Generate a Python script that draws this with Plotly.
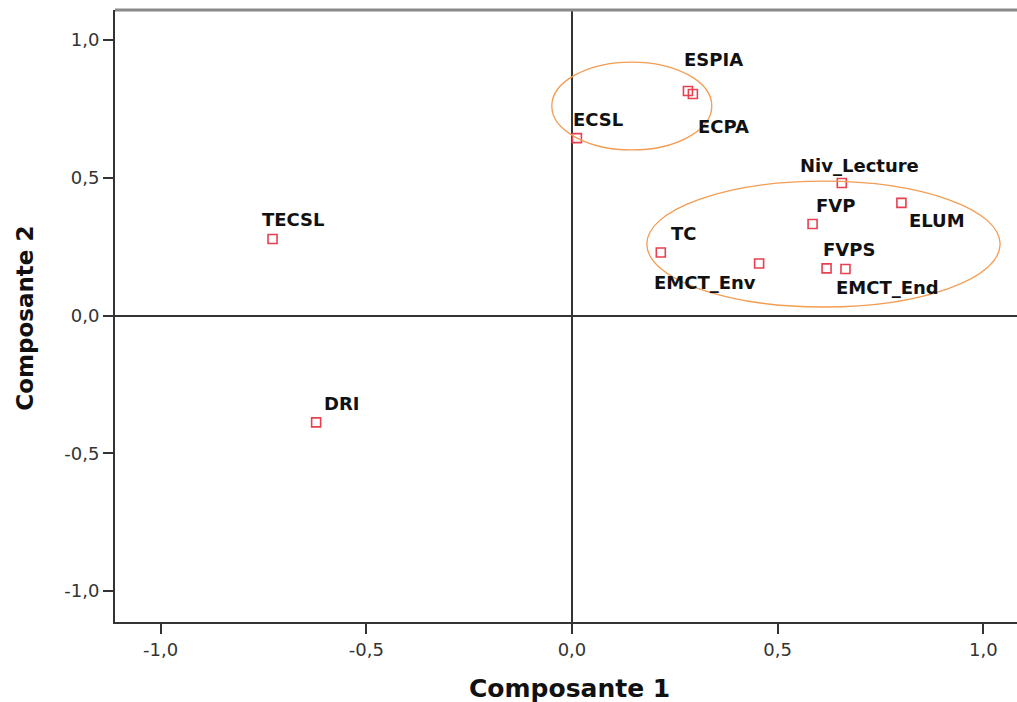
import plotly.graph_objects as go

# Component loadings (Composante 1, Composante 2)
variables = ["ESPIA", "ECPA", "ECSL", "Niv_Lecture", "ELUM", "FVP", "TC",
             "EMCT_Env", "FVPS", "EMCT_End", "TECSL", "DRI"]
comp1 = [0.282, 0.294, 0.012, 0.656, 0.801, 0.585, 0.216,
         0.455, 0.619, 0.665, -0.728, -0.622]
comp2 = [0.815, 0.804, 0.644, 0.481, 0.409, 0.332, 0.229,
         0.189, 0.171, 0.169, 0.278, -0.388]

# Label offsets in pixels (left edge of text relative to marker)
label_dx = [-6, 3, -6, -44, 6, 1, 8, -107, -6, -11, -13, 6]
label_dy = [31, -32, 19, 18, -18, 19, 19, -19, 19, -19, 19, 19]

tick_vals = [-1.0, -0.5, 0.0, 0.5, 1.0]
tick_text = ["-1,0", "-0,5", "0,0", "0,5", "1,0"]

# Grouping ellipses: (x0, x1, y0, y1)
group_ellipses = [
    (-0.049, 0.340, 0.601, 0.920),
    (0.182, 1.041, 0.031, 0.488),
]

font_family = "DejaVu Sans, Verdana, Arial, sans-serif"

fig = go.Figure()

fig.add_trace(go.Scatter(
    x=comp1, y=comp2, mode="markers",
    marker=dict(symbol="square-open", size=9, color="#e8404f",
                line=dict(width=1.6, color="#e8404f")),
    hoverinfo="text", text=variables, showlegend=False,
))

for name, x, y, dx, dy in zip(variables, comp1, comp2, label_dx, label_dy):
    fig.add_annotation(
        x=x, y=y, text=f"<b>{name}</b>", showarrow=False,
        xanchor="left", yanchor="middle", xshift=dx, yshift=dy,
        font=dict(family=font_family, size=18, color="#111111"),
    )

for x0, x1, y0, y1 in group_ellipses:
    fig.add_shape(type="circle", xref="x", yref="y",
                  x0=x0, x1=x1, y0=y0, y1=y1,
                  line=dict(color="#f39c52", width=1.3), layer="above")

# Gray frame line along the top of the plot area
fig.add_shape(type="line", xref="paper", yref="paper",
              x0=0, x1=1, y0=1, y1=1,
              line=dict(color="#8a8a8a", width=3))

axis_common = dict(
    tickvals=tick_vals, ticktext=tick_text,
    showgrid=False, zeroline=True, zerolinecolor="#333333", zerolinewidth=2,
    showline=True, linecolor="#333333", linewidth=2,
    ticks="outside", ticklen=10, tickwidth=2, tickcolor="#333333",
    tickfont=dict(family=font_family, size=18, color="#333333"),
)

fig.update_xaxes(range=[-1.111, 1.082], **axis_common)
fig.update_yaxes(range=[-1.1125, 1.109], **axis_common)

fig.add_annotation(
    xref="paper", yref="paper", x=0.504, y=-0.108,
    text="<b>Composante 1</b>", showarrow=False,
    xanchor="center", yanchor="middle",
    font=dict(family=font_family, size=25, color="#111111"),
)
fig.add_annotation(
    xref="paper", yref="paper", x=-0.100, y=0.497,
    text="<b>Composante 2</b>", showarrow=False, textangle=-90,
    xanchor="center", yanchor="middle",
    font=dict(family=font_family, size=23, color="#111111"),
)

fig.update_layout(
    width=1017, height=702,
    margin=dict(l=115, r=0, t=10, b=80),
    plot_bgcolor="white", paper_bgcolor="white",
    font=dict(family=font_family),
)

fig.write_html("out.html")
